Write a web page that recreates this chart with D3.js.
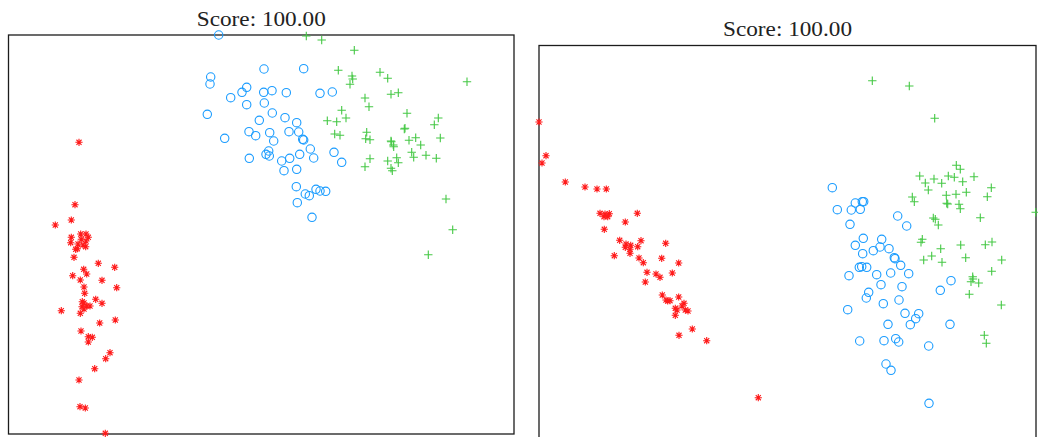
<!DOCTYPE html>
<html>
<head>
<meta charset="utf-8">
<script src="https://cdn.jsdelivr.net/npm/d3@7"></script>
<style>
  html, body { margin: 0; padding: 0; background: #fff; overflow: hidden; }
  svg { display: block; }
</style>
</head>
<body>
<script>
// ---- Data (embedding coordinates, arbitrary units) ----
const titles = ["Score: 100.00", "Score: 100.00"];
const classNames = ["setosa", "versicolor", "virginica"];

// Left panel
const leftRedX = [7.05,6.65,6.28,4.68,6.28,6.22,7.22,7.75,7.98,7.28,7.72,6.72,6.88,6.55,8.98,10.62,7.52,7.82,6.42,7.18,9.35,10.82,7.55,7.62,8.72,9.35,7.38,7.35,7.82,8.15,5.28,7.18,9.12,10.68,7.25,7.98,8.38,7.98,10.15,9.72,8.62,7.05,7.15,7.68,9.68,7.55,7.45,6.95,7.75,7.55];
const leftRedY = [29.17,22.93,21.4,20.9,19.67,19.13,20.0,20.0,19.67,19.47,18.73,18.47,18.53,17.67,17.07,16.67,16.47,16.0,15.83,15.4,15.37,14.63,14.7,14.07,13.47,13.07,13.23,12.73,12.8,12.8,12.33,12.07,11.1,11.4,10.3,9.73,9.67,9.2,8.13,7.53,6.53,5.4,2.73,2.6,0.07,12.5,18.9,19.0,19.3,13.1];
const leftBlueX = [21.02,25.55,29.52,20.22,20.15,23.82,23.35,25.52,26.35,27.78,31.15,32.38,22.22,23.82,25.58,19.88,26.38,27.65,25.08,28.82,24.05,24.72,26.12,28.05,29.02,21.62,26.52,29.42,29.52,26.02,25.75,26.08,24.08,27.32,28.12,29.12,30.18,30.52,32.55,33.32,27.55,28.82,28.78,29.68,30.08,30.75,31.15,31.72,28.88,30.35];
const leftBlueY = [39.9,36.5,36.53,35.7,35.0,34.67,34.17,34.17,34.33,34.13,34.07,34.2,33.63,32.93,33.1,31.97,32.1,31.63,31.37,31.13,30.23,29.83,30.13,30.23,30.2,29.57,29.3,29.47,29.4,28.3,27.97,27.8,27.57,27.3,27.57,27.97,28.5,27.6,28.17,27.17,26.33,26.47,24.73,24.0,23.83,24.47,24.3,24.27,23.13,21.67];
const leftGreenX = [29.78,31.32,34.58,32.98,34.35,34.42,34.15,37.15,37.92,45.85,35.65,36.05,38.25,38.98,33.32,31.88,32.82,33.75,39.85,32.62,33.15,35.82,35.72,36.15,39.65,39.58,42.98,42.58,43.18,38.25,38.48,40.05,40.72,41.22,40.32,40.52,41.75,42.78,38.82,38.98,37.92,36.15,35.65,38.25,38.38,43.75,44.42,41.98,38.28,38.52];
const leftGreenY = [39.8,39.4,38.37,36.37,35.8,35.5,34.97,36.17,35.57,35.23,33.6,32.73,33.97,34.13,32.37,31.33,31.23,31.6,32.07,30.0,29.87,30.17,29.53,29.43,30.57,30.5,31.6,30.93,29.6,29.3,28.9,29.37,29.63,28.9,28.17,27.67,27.87,27.57,27.63,27.13,27.3,27.53,26.73,26.57,26.33,23.5,20.43,17.93,29.23,28.73];

// Right panel
const rightRedX = [0.0,0.7,0.3,2.63,4.6,5.8,6.73,6.1,6.5,7.03,6.87,9.83,8.63,6.53,8.07,8.7,9.17,10.2,9.87,8.63,9.1,12.67,7.53,10.0,10.43,12.27,13.97,10.8,11.7,12.1,13.33,10.63,12.33,12.87,13.1,13.97,14.5,13.63,13.8,14.63,14.9,13.63,15.33,14.0,16.77,21.93,9.1,6.6,12.7,14.3];
const rightRedY = [32.3,28.93,28.2,26.3,25.8,25.6,25.6,23.17,22.83,23.13,22.83,23.17,22.3,21.57,20.47,20.1,19.97,20.43,19.83,19.77,19.17,20.17,18.93,18.7,18.23,18.67,18.2,17.27,17.1,16.77,17.2,16.3,15.0,14.4,14.43,14.8,14.17,13.67,13.5,13.5,13.4,12.97,11.6,10.97,10.43,4.73,19.57,23.1,14.5,13.9];
const rightBlueX = [29.33,29.83,31.23,31.63,32.13,32.33,32.47,31.1,35.87,36.77,32.43,31.63,34.27,34.1,35.0,33.43,32.37,35.53,35.6,36.17,32.03,32.27,32.77,31.0,33.77,35.17,36.97,34.2,36.3,41.2,40.13,32.97,32.73,30.87,34.43,36.0,36.6,37.97,37.67,37.13,34.9,41.1,32.07,34.5,35.67,35.97,38.97,34.7,35.2,39.0];
const rightBlueY = [25.73,23.53,23.5,24.2,23.57,24.33,24.33,22.07,22.9,21.9,20.67,19.97,20.57,19.8,19.63,19.43,19.13,18.73,18.63,17.97,17.77,17.83,17.77,16.93,17.03,17.2,17.13,16.03,15.83,16.43,15.47,15.27,14.7,13.53,14.13,14.5,13.17,13.13,12.63,12.03,12.07,12.07,10.4,10.43,10.63,10.3,9.9,8.1,7.47,4.17];
const rightGreenX = [33.33,37.03,39.57,49.67,41.73,42.13,38.07,38.63,39.5,40.27,40.93,41.53,42.37,43.5,38.93,45.23,37.33,37.53,40.73,41.7,42.73,44.83,40.77,40.87,42.0,42.13,44.13,39.43,39.63,39.93,38.33,38.2,40.17,42.17,44.63,45.3,38.47,39.27,40.3,42.67,46.27,45.27,43.37,43.2,43.97,43.03,46.23,44.53,44.73,43.4];
const rightGreenY = [36.43,35.9,32.67,23.27,27.97,27.57,26.9,26.2,26.6,26.17,26.9,26.77,26.33,26.83,25.5,25.73,24.8,24.33,24.97,25.07,25.27,24.83,24.17,24.1,24.07,23.63,22.73,22.7,22.57,22.0,20.57,20.27,19.63,20.0,20.03,20.3,18.5,18.9,18.27,18.73,18.5,17.37,16.83,16.33,16.2,15.07,14.0,10.97,10.17,16.6];

// Axis domains
const leftXDomain = [0, 50.55], leftYDomain = [0, 39.9];
const rightXDomain = [0, 49.7], rightYDomain = [0, 39.95];

// ---- Drawing ----
const W = 1038, H = 437;
const colors = { red: "#ff1a1a", blue: "#1a9cff", green: "#45c845" };

const svg = d3.select("body").append("svg")
  .attr("width", W).attr("height", H)
  .attr("viewBox", `0 0 ${W} ${H}`);

const zip = (xs, ys) => xs.map((x, i) => ({ x, y: ys[i] }));

const panels = [
  { title: titles[0], box: { x0: 8.5, x1: 514, y0: 35, y1: 434 }, xd: leftXDomain, yd: leftYDomain,
    red: zip(leftRedX, leftRedY), blue: zip(leftBlueX, leftBlueY), green: zip(leftGreenX, leftGreenY) },
  { title: titles[1], box: { x0: 539, x1: 1036, y0: 45.5, y1: 445 }, xd: rightXDomain, yd: rightYDomain,
    red: zip(rightRedX, rightRedY), blue: zip(rightBlueX, rightBlueY), green: zip(rightGreenX, rightGreenY) }
];

panels.forEach(p => {
  const b = p.box;
  const x = d3.scaleLinear().domain(p.xd).range([b.x0, b.x1]);
  const y = d3.scaleLinear().domain(p.yd).range([b.y1, b.y0]);
  const g = svg.append("g");

  g.append("rect")
    .attr("x", b.x0).attr("y", b.y0)
    .attr("width", b.x1 - b.x0).attr("height", b.y1 - b.y0)
    .attr("fill", "none").attr("stroke", "#1c1c1c").attr("stroke-width", 1.3);

  g.append("text")
    .attr("x", (b.x0 + b.x1) / 2).attr("y", b.y0 - 9.5)
    .attr("text-anchor", "middle")
    .attr("font-family", "'Liberation Serif', 'Times New Roman', serif")
    .attr("font-size", 20.5)
    .attr("fill", "#222")
    .attr("textLength", 129).attr("lengthAdjust", "spacingAndGlyphs")
    .text(p.title);

  // red asterisks
  const aL = 3.6, aD = aL * Math.SQRT1_2;
  const star = `M${-aL},0L${aL},0M0,${-aL}L0,${aL}M${-aD},${-aD}L${aD},${aD}M${-aD},${aD}L${aD},${-aD}`;
  g.append("g").selectAll("path").data(p.red).join("path")
    .attr("transform", d => `translate(${x(d.x)},${y(d.y)})`)
    .attr("d", star)
    .attr("fill", "none").attr("stroke", colors.red).attr("stroke-width", 1.1);

  // blue circles
  g.append("g").selectAll("circle").data(p.blue).join("circle")
    .attr("cx", d => x(d.x)).attr("cy", d => y(d.y)).attr("r", 4.2)
    .attr("fill", "none").attr("stroke", colors.blue).attr("stroke-width", 1.1);

  // green pluses
  const pL = 4.2;
  const plus = `M${-pL},0L${pL},0M0,${-pL}L0,${pL}`;
  g.append("g").selectAll("path").data(p.green).join("path")
    .attr("transform", d => `translate(${x(d.x)},${y(d.y)})`)
    .attr("d", plus)
    .attr("fill", "none").attr("stroke", colors.green).attr("stroke-width", 1.1);
});
</script>
</body>
</html>
